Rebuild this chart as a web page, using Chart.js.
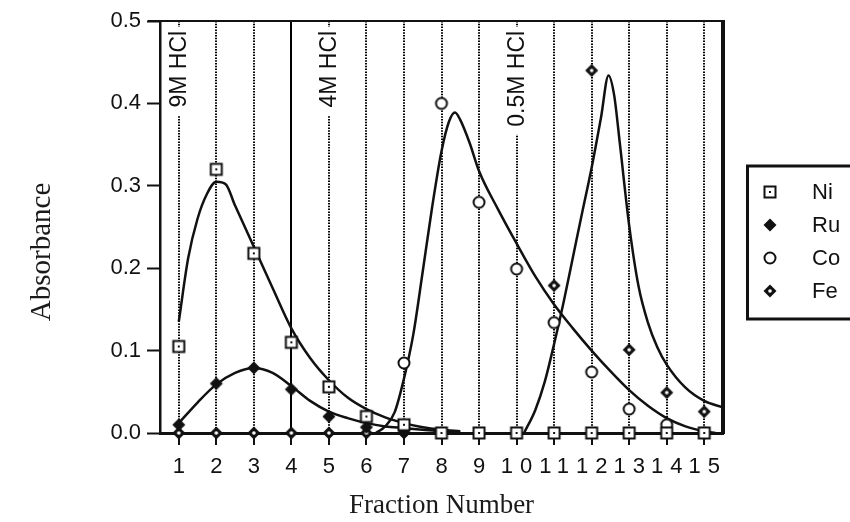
<!DOCTYPE html>
<html>
<head>
<meta charset="utf-8">
<script src="https://cdn.jsdelivr.net/npm/chart.js@4.4.0/dist/chart.umd.min.js"></script>
<style>
  html, body { margin: 0; padding: 0; background: #fff; }
  #wrap { width: 850px; height: 522px; }
</style>
</head>
<body>
<div id="wrap"><canvas id="elution"></canvas></div>
<script>
// fraction numbers (x axis)
const fractions = [1, 2, 3, 4, 5, 6, 7, 8, 9, 10, 11, 12, 13, 14, 15];

// measured absorbance of each fraction
const ni = [0.105, 0.320, 0.218, 0.110, 0.056, 0.020, 0.010, 0, 0, 0, 0, 0, 0, 0, 0];
const ru = [0.010, 0.060, 0.079, 0.053, 0.020, 0.007, 0.003, 0, 0, 0, 0, 0, 0, 0, 0];
const co = [null, null, null, null, null, null, 0.085, 0.400, 0.280, 0.199, 0.134, 0.074, 0.029, 0.010, 0];
const fe = [0, 0, 0, 0, 0, 0, 0, 0, 0, 0, 0.179, 0.440, 0.101, 0.049, 0.026];

// fitted elution profiles
const niFitX = [1, 1.25, 1.5, 1.75, 2, 2.25, 2.5, 3, 3.5, 4, 4.5, 5, 5.5, 6, 6.5, 7, 7.5, 8, 8.5];
const niFitY = [0.135, 0.212, 0.26, 0.29, 0.305, 0.302, 0.276, 0.226, 0.176, 0.127, 0.091, 0.064, 0.043, 0.029, 0.019, 0.012, 0.007, 0.004, 0.002];
const ruFitX = [1, 1.5, 2, 2.5, 3, 3.5, 4, 4.5, 5, 5.5, 6, 6.5, 7, 7.5, 8, 8.5];
const ruFitY = [0.012, 0.037, 0.059, 0.073, 0.079, 0.073, 0.057, 0.039, 0.026, 0.018, 0.012, 0.008, 0.006, 0.004, 0.002, 0.001];
const coFitX = [6.25, 6.5, 6.75, 7, 7.25, 7.5, 7.75, 8, 8.2, 8.36, 8.5, 8.75, 9, 9.5, 10, 10.5, 11, 11.5, 12, 12.5, 13, 13.5, 14, 14.5, 15, 15.3];
const coFitY = [0, 0.008, 0.025, 0.066, 0.12, 0.196, 0.274, 0.342, 0.378, 0.389, 0.38, 0.352, 0.318, 0.272, 0.23, 0.19, 0.156, 0.127, 0.1, 0.075, 0.052, 0.033, 0.018, 0.008, 0.002, 0];
const feFitX = [10.2, 10.5, 10.75, 11, 11.25, 11.5, 11.75, 12, 12.25, 12.45, 12.6, 12.75, 13, 13.25, 13.5, 13.75, 14, 14.5, 15, 15.5];
const feFitY = [0, 0.028, 0.062, 0.108, 0.158, 0.213, 0.268, 0.322, 0.383, 0.434, 0.41, 0.352, 0.252, 0.178, 0.134, 0.104, 0.083, 0.055, 0.039, 0.031];

const yTicks = [0, 0.1, 0.2, 0.3, 0.4, 0.5];
const yMinorTicks = [0.05, 0.15, 0.25, 0.35, 0.45];

// eluent changes, written along the fraction lines
const eluents = ['9M HCl', '4M HCl', '0.5M HCl'];
const eluentAt = [1, 5, 10];

const seriesNames = ['Ni', 'Ru', 'Co', 'Fe'];

const INK = '#111';
const SANS = '"Liberation Sans", Arial, Helvetica, sans-serif';
const SERIF = '"Liberation Serif", "Times New Roman", serif';

// small canvases used as point styles
function marker(kind) {
  const c = document.createElement('canvas');
  c.width = 16; c.height = 16;
  const g = c.getContext('2d');
  g.strokeStyle = INK; g.fillStyle = INK; g.lineWidth = 2;
  const diamond = () => {
    g.beginPath();
    g.moveTo(8, 1.5); g.lineTo(14.5, 8); g.lineTo(8, 14.5); g.lineTo(1.5, 8);
    g.closePath();
  };
  if (kind === 'square') {
    g.fillStyle = '#fff'; g.fillRect(2.5, 2.5, 11, 11);
    g.strokeRect(2.5, 2.5, 11, 11);
    g.fillStyle = INK; g.fillRect(7, 7, 2, 2);
  } else if (kind === 'diamond') {
    diamond(); g.fill();
  } else if (kind === 'circle') {
    g.fillStyle = '#fff';
    g.beginPath(); g.arc(8, 8, 5.5, 0, Math.PI * 2); g.fill(); g.stroke();
  } else {
    diamond(); g.fill();
    g.fillStyle = '#fff';
    g.beginPath(); g.arc(8, 8, 1.8, 0, Math.PI * 2); g.fill();
  }
  return c;
}
const markers = [marker('square'), marker('diamond'), marker('circle'), marker('dotdiamond')];

const pts = vals => fractions.map((f, i) => ({x: f, y: vals[i]}));
const fit = (xs, ys) => xs.map((x, i) => ({x, y: ys[i]}));

function pointSet(label, vals, img) {
  return {
    label, data: pts(vals), showLine: false,
    pointStyle: img, pointRadius: 6, pointHoverRadius: 6,
    clip: false, order: 0
  };
}
function curveSet(label, data) {
  return {
    label, data, pointRadius: 0, borderColor: INK, borderWidth: 2.5,
    cubicInterpolationMode: 'monotone', order: 1
  };
}

// top/right frame plus the eluent labels cut into the dotted lines
const frameAndEluents = {
  id: 'frameAndEluents',
  beforeDatasetsDraw(chart) {
    const {ctx, chartArea: a, scales: {x, y}} = chart;
    ctx.save();
    ctx.strokeStyle = INK;
    ctx.lineWidth = 2;
    ctx.beginPath(); ctx.moveTo(a.left - 12, a.top); ctx.lineTo(a.right, a.top); ctx.stroke();
    ctx.lineWidth = 4;
    ctx.beginPath(); ctx.moveTo(a.right, a.top - 1); ctx.lineTo(a.right, a.bottom + 1); ctx.stroke();

    ctx.font = '23px ' + SANS;
    ctx.textAlign = 'right';
    ctx.textBaseline = 'middle';
    const top = y.getPixelForValue(0.488);
    eluents.forEach((text, i) => {
      const px = x.getPixelForValue(eluentAt[i]);
      const w = ctx.measureText(text).width;
      ctx.fillStyle = '#fff';
      ctx.fillRect(px - 10, top - 4, 20, w + 12);
      ctx.save();
      ctx.translate(px + 1, top);
      ctx.rotate(-Math.PI / 2);
      ctx.fillStyle = INK;
      ctx.fillText(text, 0, 0);
      ctx.restore();
    });
    ctx.restore();
  }
};

// y axis title, set a little below the middle of the axis
const yTitle = {
  id: 'yTitle',
  afterDraw(chart) {
    const {ctx} = chart;
    ctx.save();
    ctx.translate(42, 252);
    ctx.rotate(-Math.PI / 2);
    ctx.font = '29px ' + SERIF;
    ctx.fillStyle = '#1a1a1a';
    ctx.textAlign = 'center';
    ctx.textBaseline = 'middle';
    ctx.fillText('Absorbance', 0, 0);
    ctx.restore();
  }
};

// boxed legend to the right of the plot
const legendBox = {
  id: 'legendBox',
  afterDraw(chart) {
    const {ctx} = chart;
    ctx.save();
    ctx.lineWidth = 3;
    ctx.strokeStyle = INK;
    ctx.strokeRect(747.5, 166, 130, 153);
    ctx.font = '22px ' + SANS;
    ctx.fillStyle = INK;
    ctx.textBaseline = 'middle';
    seriesNames.forEach((name, i) => {
      const yy = 192 + i * 33;
      const img = markers[i];
      ctx.drawImage(img, 770 - img.width / 2, yy - img.height / 2);
      ctx.fillText(name, 812, yy + 1);
    });
    ctx.restore();
  }
};

// wide digit spacing on the fraction numbers
const spacedFractions = {
  id: 'spacedFractions',
  beforeDraw(chart) {
    const sx = chart.scales.x;
    if (sx._spaced) return;
    const base = sx.drawLabels;
    sx.drawLabels = function (area) {
      this.ctx.save();
      this.ctx.letterSpacing = '7px';
      base.call(this, area);
      this.ctx.restore();
    };
    sx._spaced = true;
  }
};

new Chart(document.getElementById('elution'), {
  type: 'line',
  data: {
    datasets: [
      pointSet('Ni', ni, markers[0]),
      pointSet('Ru', ru, markers[1]),
      pointSet('Co', co, markers[2]),
      pointSet('Fe', fe, markers[3]),
      curveSet('Ni fit', fit(niFitX, niFitY)),
      curveSet('Ru fit', fit(ruFitX, ruFitY)),
      curveSet('Co fit', fit(coFitX, coFitY)),
      curveSet('Fe fit', fit(feFitX, feFitY))
    ]
  },
  options: {
    responsive: true,
    maintainAspectRatio: false,
    animation: false,
    layout: { padding: { top: 21, right: 127, left: 0, bottom: 0 } },
    plugins: { legend: { display: false }, tooltip: { enabled: false } },
    scales: {
      x: {
        type: 'linear', min: 0.5, max: 15.5,
        afterBuildTicks: s => { s.ticks = fractions.map(v => ({value: v})); },
        afterFit: s => { s.height = 89; },
        ticks: {
          color: INK, font: { family: SANS, size: 22 }, padding: 9,
          labelOffset: 3.5, maxRotation: 0, autoSkip: false
        },
        grid: {
          color: '#000', lineWidth: 2,
          tickLength: 12, tickWidth: 2, tickColor: INK
        },
        border: {
          color: INK, width: 3,
          dash: c => (!c.tick || c.tick.value === 4) ? [] : [1.5, 1.3]
        },
        title: {
          display: true, text: 'Fraction Number', color: '#1a1a1a',
          font: { family: SERIF, size: 27 }, padding: { top: 0, bottom: 0 }
        }
      },
      y: {
        type: 'linear', position: 'left', min: 0, max: 0.5,
        afterBuildTicks: s => { s.ticks = yTicks.map(v => ({value: v})); },
        afterFit: s => { s.width = 160; },
        ticks: {
          color: INK, font: { family: SANS, size: 22 }, padding: 6,
          callback: v => v.toFixed(1)
        },
        grid: { drawOnChartArea: false, tickLength: 13, tickWidth: 2, tickColor: INK },
        border: { color: INK, width: 2.5 }
      },
      yMinor: {
        type: 'linear', position: 'left', min: 0, max: 0.5,
        afterBuildTicks: s => { s.ticks = yMinorTicks.map(v => ({value: v})); },
        afterFit: s => { s.width = 0; },
        ticks: { display: false },
        grid: { drawOnChartArea: false, tickLength: 6, tickWidth: 2, tickColor: INK },
        border: { display: false }
      }
    }
  },
  plugins: [spacedFractions, frameAndEluents, yTitle, legendBox]
});
</script>
</body>
</html>
